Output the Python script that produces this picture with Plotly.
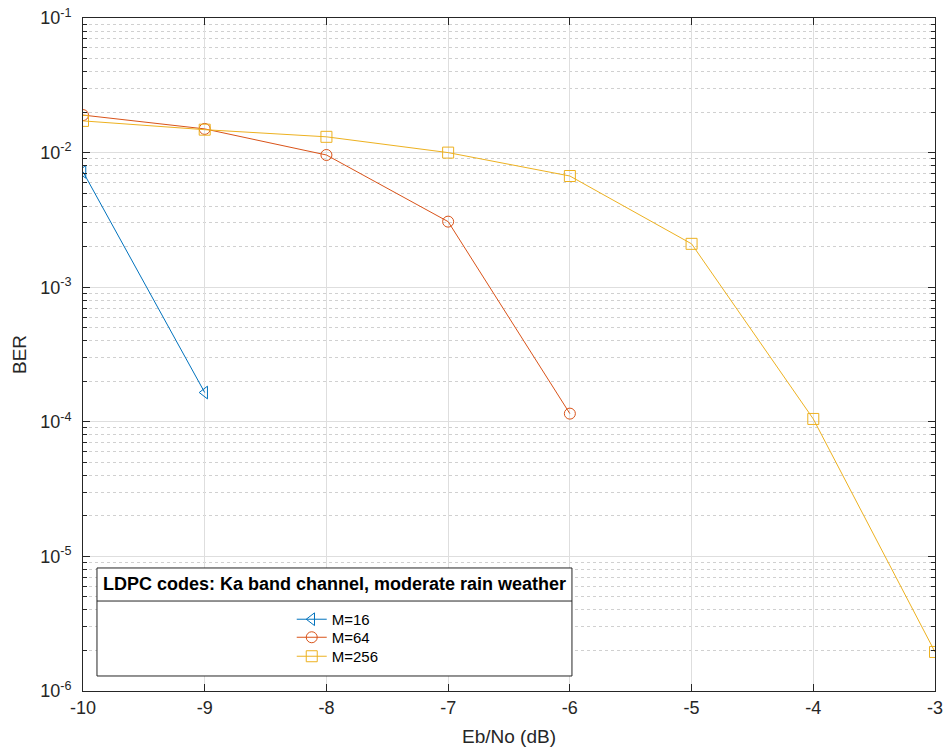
import plotly.graph_objects as go

ebno = [-10, -9, -8, -7, -6, -5, -4, -3]
xtick_text = ["-10", "-9", "-8", "-7", "-6", "-5", "-4", "-3"]
ber_m16 = [7.2e-3, 1.65e-4]
ber_m64 = [1.9e-2, 1.5e-2, 9.6e-3, 3.07e-3, 1.15e-4]
ber_m256 = [1.72e-2, 1.48e-2, 1.31e-2, 1.0e-2, 6.7e-3, 2.1e-3, 1.05e-4, 1.95e-6]

names = ["M=16", "M=64", "M=256"]
colors = ["#0072BD", "#D95319", "#EDB120"]
symbols = ["triangle-left-open", "circle-open", "square-open"]
series = [ber_m16, ber_m64, ber_m256]
legend_ids = ["legend", "legend2", "legend3"]

ytick_vals = [1e-6, 1e-5, 1e-4, 1e-3, 1e-2, 1e-1]
ytick_text = ["10<sup>-6</sup>", "10<sup>-5</sup>", "10<sup>-4</sup>",
              "10<sup>-3</sup>", "10<sup>-2</sup>", "10<sup>-1</sup>"]
minor_vals = [m * 10.0 ** e for e in range(-6, -1) for m in range(2, 10)]

fig = go.Figure()
for nm, c, s, y, lg in zip(names, colors, symbols, series, legend_ids):
    fig.add_trace(go.Scatter(
        x=ebno[:len(y)], y=y, name=nm, mode="lines+markers", legend=lg,
        line=dict(color=c, width=1),
        marker=dict(symbol=s, size=11, color=c, line=dict(width=1, color=c)),
    ))

font_family = "Liberation Sans, Arial, Helvetica, sans-serif"
leg_common = dict(x=0.245, xanchor="left", yanchor="top",
                  bgcolor="rgba(0,0,0,0)", borderwidth=0,
                  font=dict(size=15, color="#000000",
                            family=font_family))
fig.update_layout(
    width=945, height=754,
    margin=dict(l=83, r=10, t=18, b=63),
    paper_bgcolor="white", plot_bgcolor="white",
    font=dict(family=font_family, size=18, color="#262626"),
    showlegend=True,
    legend=dict(y=0.1308, **leg_common),
    legend2=dict(y=0.1040, **leg_common),
    legend3=dict(y=0.0758, **leg_common),
    xaxis=dict(range=[-10, -3], tickvals=ebno, ticktext=xtick_text,
               ticks="inside", ticklen=7, automargin=False,
               tickcolor="#262626", showline=True, linecolor="#262626",
               linewidth=1, mirror="ticks", showgrid=True, gridcolor="#dedede",
               zeroline=False, tickfont=dict(size=18),
               title=dict(text="Eb/No (dB)", standoff=13,
                          font=dict(size=19))),
    yaxis=dict(type="log", range=[-6, -1], tickvals=ytick_vals,
               ticktext=ytick_text, ticks="inside", ticklen=7,
               automargin=False, ticklabelstandoff=7,
               tickcolor="#262626", showline=True, linecolor="#262626",
               linewidth=1, mirror="ticks", showgrid=True, gridcolor="#dedede",
               zeroline=False, tickfont=dict(size=18),
               minor=dict(tickvals=minor_vals, ticks="inside", ticklen=4,
                          tickcolor="#262626", showgrid=True,
                          gridcolor="#d0d0d0", griddash="dot"),
               title=dict(text="BER", standoff=8, font=dict(size=19))),
)

# legend frame with title section
fig.add_shape(type="rect", xref="paper", yref="paper",
              x0=0.0164, x1=0.5739, y0=0.0223, y1=0.1828,
              line=dict(color="#262626", width=1), fillcolor="white",
              layer="above")
fig.add_shape(type="line", xref="paper", yref="paper",
              x0=0.0164, x1=0.5739, y0=0.1337, y1=0.1337,
              line=dict(color="#262626", width=1), layer="above")
fig.add_annotation(xref="paper", yref="paper", x=0.2952, y=0.1585,
                   text="<b>LDPC codes: Ka band channel, moderate rain weather</b>",
                   showarrow=False, font=dict(size=18, color="#000000"),
                   xanchor="center", yanchor="middle")

fig.write_html("out.html", config={"displayModeBar": False},
               post_script="document.body.style.margin='0';"
                           "document.body.style.overflow='hidden';")
